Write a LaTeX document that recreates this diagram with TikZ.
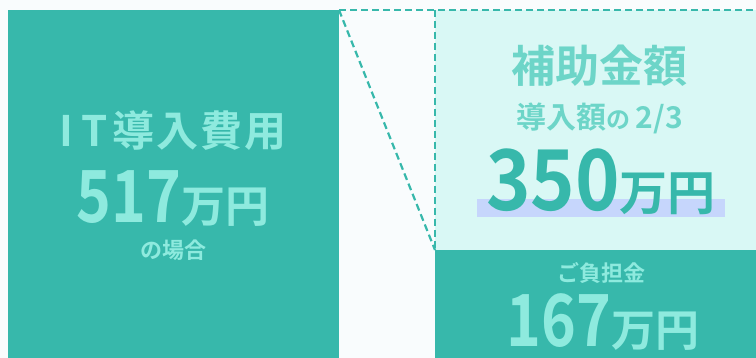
\documentclass[tikz,border=0pt]{standalone}
\usepackage{fontspec}
\newfontfamily\jpb{Noto Sans CJK JP Bold}
\definecolor{bgc}{HTML}{F9FCFD}
\definecolor{teal}{HTML}{37B8AB}
\definecolor{mint}{HTML}{8EEADE}
\definecolor{pale}{HTML}{D9F8F5}
\definecolor{midmint}{HTML}{6DD5C8}
\definecolor{hilite}{HTML}{C6D6FC}
\newcommand{\fs}[1]{\fontsize{#1}{#1}\selectfont}
\newcommand{\cnd}[2][0.82]{\scalebox{#1}[1]{#2}}
\tikzset{
  txt/.style={inner sep=0pt, anchor=base, font=\jpb},
  dashline/.style={draw=teal, line width=2.2pt, dash pattern=on 7pt off 4pt},
}
\begin{document}
\begin{tikzpicture}[x=1pt,y=-1pt]
\fill[bgc] (0,0) rectangle (756,358);
\useasboundingbox (0,0) rectangle (756,358);
% boxes
\fill[teal] (8,10) rectangle (339,358);
\fill[pale] (435,10) rectangle (756,250);
\fill[hilite] (477,199) rectangle (725,217);
\fill[teal] (435,250) rectangle (756,358);
\coordinate (lt) at (339,10);
\coordinate (rt) at (756,10);
\coordinate (ct) at (435,10);
\coordinate (cb) at (435,250);
\draw[dashline] (lt) -- (rt);
\draw[dashline] (ct) -- (cb);
\draw[dashline] (lt) -- (cb);
% left texts
\node[txt, text=mint] (it) at (173,147) {\fs{42}I\hspace{8pt}T\hspace{4pt}導\hspace{2pt}入\hspace{2pt}費\hspace{2pt}用};
\node[txt, text=mint] (n517) at (173,223) {\fs{72}\cnd{517}\fs{44}万円};
\node[txt, text=mint] (case) at (173,259) {\fs{22}の場合};
% right texts
\node[txt, text=midmint] (hojo) at (599,83) {\fs{44}補助金額};
\node[txt, text=midmint] (ratio) at (600,129) {\fs{30}導入額\fs{24}の\fs{30}\,2/3};
\node[txt, text=teal] (n350) at (601,211) {\fs{84}\cnd[0.9]{350}\fs{48}万円};
\node[txt, text=mint] (futan) at (601,282) {\fs{22}ご負担金};
\node[txt, text=mint] (n167) at (603,347) {\fs{72}\cnd{167}\fs{44}万円};
\end{tikzpicture}
\end{document}
